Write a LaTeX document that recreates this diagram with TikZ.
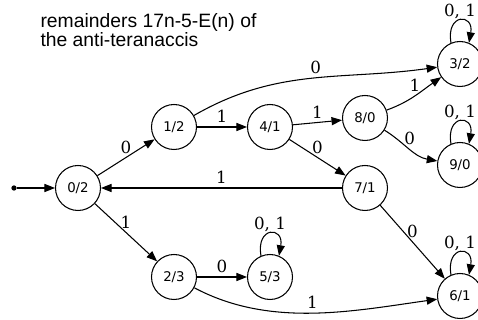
\documentclass[tikz,border=0pt]{standalone}
\usepackage{fontspec}
\setmainfont{DejaVu Serif}
\newfontfamily\statefont{DejaVu Sans}
\newfontfamily\titlefont{Liberation Sans}
\usetikzlibrary{arrows.meta}

\begin{document}
\begin{tikzpicture}[x=0.02cm,y=0.02cm,>={Triangle[length=6pt,width=4.6pt]},line width=0.6pt,line join=round,
	font=\fontsize{9.5}{10}\selectfont,
	state/.style={draw,circle,minimum size=0.9cm,inner sep=0pt,font=\statefont\fontsize{7.6}{8}\selectfont},
	lbl/.style={above=1pt,inner sep=1pt},
	title/.style={anchor=base west,inner sep=0pt,font=\titlefont\fontsize{11}{12}\selectfont}]
	\useasboundingbox (0,0) rectangle (478,320);
	%\draw[gray!30] (0,0) grid[step=20] (478,320);
	\node[title] (t1) at (40,292) {remainders 17n-5-E(n) of};
	\node[title] (t2) at (40,273) {the anti-teranaccis};
	% states
	\node[circle,fill,inner sep=0pt,minimum size=3pt] (start) at (14,132) {};
	\node[state] (q02) at (78,132) {0/2};
	\node[state] (q12) at (174,193) {1/2};
	\node[state] (q41) at (270,193) {4/1};
	\node[state] (q80) at (365,202) {8/0};
	\node[state] (q32) at (460,256) {3/2};
	\node[state] (q90) at (460,155) {9/0};
	\node[state] (q71) at (365,132) {7/1};
	\node[state] (q23) at (174,43) {2/3};
	\node[state] (q53) at (270,43) {5/3};
	\node[state] (q61) at (460,24) {6/1};
	% transitions
	\draw[->] (start) -- (q02);
	\draw[->] (q02) -- node[lbl]{0} (q12);
	\draw[->] (q02) -- node[lbl]{1} (q23);
	\draw[->] (q12) -- node[lbl]{1} (q41);
	\draw[->] (q12) to[out=30,in=188] node[lbl,pos=0.52]{0} (q32);
	\draw[->] (q41) -- node[lbl]{1} (q80);
	\draw[->] (q41) -- node[lbl]{0} (q71);
	\draw[->] (q80) to[out=20,in=215] node[lbl]{1} (q32);
	\draw[->] (q80) to[out=-32,in=170] node[lbl]{0} (q90);
	\draw[->] (q71) -- node[lbl]{1} (q02);
	\draw[->] (q71) -- node[lbl]{0} (q61);
	\draw[->] (q23) -- node[lbl]{0} (q53);
	\draw[->] (q23) to[out=-28,in=188,looseness=0.9] node[lbl]{1} (q61);
	\foreach \q in {q32,q90,q53,q61}
	\draw[->] (\q.113) to[out=100,in=80,looseness=4.3] node[above,inner sep=0.5pt]{0, 1} (\q.67);
\end{tikzpicture}
\end{document}
